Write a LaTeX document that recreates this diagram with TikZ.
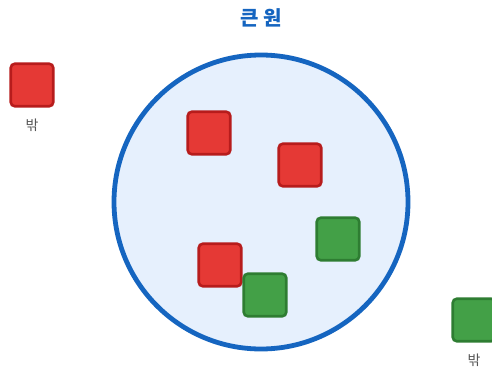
\documentclass[tikz,border=0pt]{standalone}
\usepackage{fontspec}
\setmainfont{Noto Sans CJK KR}
\usepackage{xcolor}
\usetikzlibrary{positioning}
\definecolor{circblue}{HTML}{1565C0}
\definecolor{circfill}{HTML}{E6F0FD}
\definecolor{redfill}{HTML}{E53935}
\definecolor{redline}{HTML}{B71C1C}
\definecolor{greenfill}{HTML}{43A047}
\definecolor{greenline}{HTML}{2E7D32}
\definecolor{labelgray}{HTML}{555555}

\begin{document}
\begin{tikzpicture}[
x=1pt,y=-1pt,
sq/.style={draw,rounded corners=4pt,line width=2.6pt,minimum width=42.5pt,minimum height=42.5pt,inner sep=0pt},
redsq/.style={sq,fill=redfill,draw=redline},
greensq/.style={sq,fill=greenfill,draw=greenline},
lbl/.style={font=\fontsize{14}{16}\selectfont,text=labelgray},
title/.style={font=\bfseries\fontsize{20}{24}\selectfont,text=circblue}
]
\clip (0,0) rectangle (492,372);
\useasboundingbox (0,0) rectangle (492,372);
\node[title] (title) at (261,18) {큰 원};
\node[circle,draw=circblue,fill=circfill,line width=4.8pt,minimum size=294pt,inner sep=0pt] (bigc) at (261,202) {};
\node[redsq] (r1) at (209,133) {};
\node[redsq] (r2) at (300,165) {};
\node[greensq] (g1) at (338,239) {};
\node[redsq] (r3) at (220,265) {};
\node[greensq] (g2) at (265,295) {};
\node[redsq] (rout) at (32,85) {};
\node[lbl,below=8pt of rout] (routlbl) {밖};
\node[greensq] (gout) at (474,320) {};
\node[lbl,below=8pt of gout] (goutlbl) {밖};
\end{tikzpicture}
\end{document}
